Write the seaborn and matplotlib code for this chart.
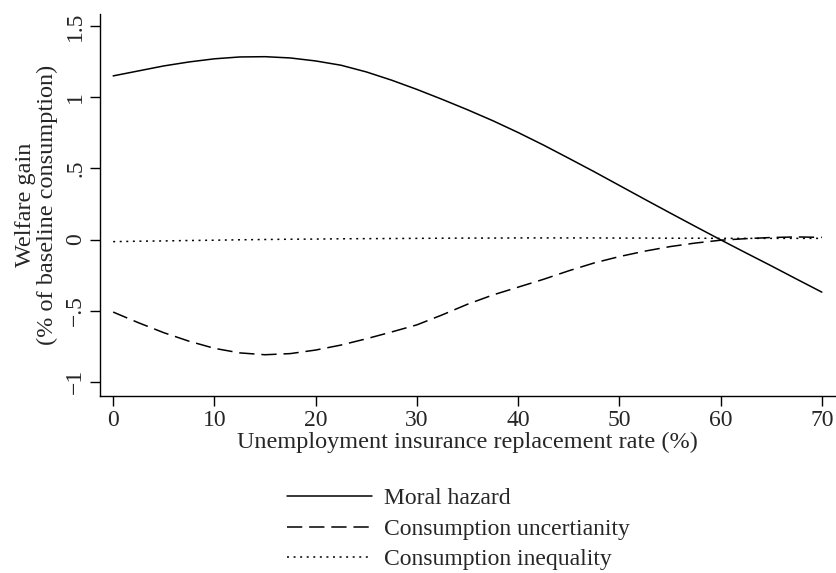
import numpy as np
import pandas as pd
import matplotlib
matplotlib.use("Agg")
import matplotlib.pyplot as plt
import seaborn as sns

# replacement rate (%) and welfare gains
rate = [0, 2.5, 5, 7.5, 10, 12.5, 15, 17.5, 20, 22.5, 25, 27.5, 30, 32.5, 35,
        37.5, 40, 42.5, 45, 47.5, 50, 52.5, 55, 57.5, 60, 62.5, 65, 67.5, 70]
moral_hazard = [1.150, 1.185, 1.220, 1.248, 1.270, 1.283, 1.285, 1.276, 1.255, 1.225,
                1.178, 1.120, 1.055, 0.985, 0.912, 0.835, 0.752, 0.664, 0.571, 0.477,
                0.380, 0.283, 0.187, 0.092, -0.002, -0.094, -0.185, -0.278, -0.370]
uncertainty = [-0.510, -0.585, -0.655, -0.715, -0.765, -0.797, -0.810, -0.802, -0.777, -0.742,
               -0.698, -0.650, -0.600, -0.530, -0.455, -0.390, -0.335, -0.280, -0.220, -0.165,
               -0.120, -0.082, -0.050, -0.025, -0.005, 0.006, 0.014, 0.018, 0.015]
inequality = [-0.015, -0.012, -0.010, -0.007, -0.005, -0.002, 0.000, 0.002, 0.003, 0.005,
              0.006, 0.007, 0.008, 0.009, 0.010, 0.010, 0.011, 0.011, 0.011, 0.011,
              0.010, 0.010, 0.009, 0.009, 0.008, 0.008, 0.008, 0.008, 0.008]

labels = ["Moral hazard", "Consumption uncertianity", "Consumption inequality"]
yticks = [-1, -0.5, 0, 0.5, 1, 1.5]
ytick_labels = ["\u22121", "\u2212.5", "0", ".5", "1", "1.5"]
xticks = [0, 10, 20, 30, 40, 50, 60, 70]

df = pd.concat([
    pd.DataFrame({"rate": rate, "gain": moral_hazard, "series": labels[0]}),
    pd.DataFrame({"rate": rate, "gain": uncertainty, "series": labels[1]}),
    pd.DataFrame({"rate": rate, "gain": inequality, "series": labels[2]}),
])

sns.set_style("white")
plt.rcParams["font.family"] = ["Liberation Serif", "DejaVu Serif"]
plt.rcParams["axes.unicode_minus"] = True

fig = plt.figure(figsize=(8.37, 5.73), dpi=100)
ax = fig.add_axes([100 / 837, 177 / 573, 735 / 837, 382 / 573])

sns.lineplot(data=df, x="rate", y="gain", style="series", style_order=labels,
             dashes={labels[0]: "", labels[1]: (10, 4.5), labels[2]: (1.3, 3)},
             color="black", linewidth=1.1, ax=ax, legend=True)

ax.set_xlim(-1.3, 71.3)
ax.set_ylim(-1.1, 1.585)
ax.set_xticks(xticks)
ax.set_xticklabels([str(t) for t in xticks], fontsize=17)
ax.set_yticks(yticks)
ax.set_yticklabels(ytick_labels, fontsize=17, rotation=90, va="center")
ax.tick_params(axis="both", direction="out", length=7, width=1, color="black",
               left=True, bottom=True, pad=3)
sns.despine(ax=ax)
for s in ["left", "bottom"]:
    ax.spines[s].set_color("black")
    ax.spines[s].set_linewidth(1)

ax.set_xlabel("Unemployment insurance replacement rate (%)", fontsize=17.5, labelpad=1)
ax.set_ylabel("Welfare gain\n(% of baseline consumption)", fontsize=17.5,
              linespacing=1.05, labelpad=5)

handles, lbls = ax.get_legend_handles_labels()
ax.get_legend().remove()
fig.legend(handles, lbls, loc="upper left", bbox_to_anchor=(275 / 837, 1 - 476 / 573),
           frameon=False, fontsize=17, handlelength=3.6, handletextpad=0.5,
           labelspacing=0.38, borderpad=0)

fig.savefig("out.png", dpi=100)
